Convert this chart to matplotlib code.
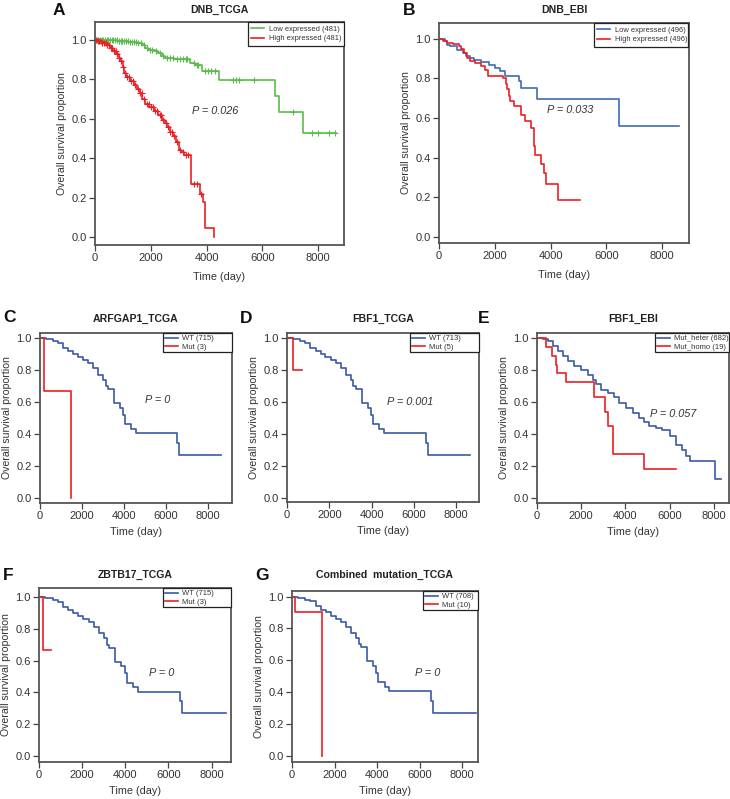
import numpy as np
import matplotlib
matplotlib.use("Agg")
import matplotlib.pyplot as plt

plt.rcParams['font.family'] = ['Liberation Sans', 'DejaVu Sans']

GREEN = '#5cbb4c'
RED = '#ec1e26'
BLUE = '#3a5aa8'

# ---- panel A: DNB_TCGA ----
a_low_t = [0, 400, 800, 1200, 1500, 1700, 1800, 1900, 2150, 2250, 2400, 2500, 2850, 3400, 3600,
           3850, 4450, 6450, 6600, 7450]
a_low_s = [1.0, 0.998, 0.995, 0.99, 0.985, 0.975, 0.96, 0.95, 0.945, 0.935, 0.92, 0.91, 0.90, 0.88,
           0.87, 0.84, 0.795, 0.715, 0.635, 0.53]
a_low_end = 8650
a_low_cens = [60, 120, 180, 240, 300, 350, 420, 480, 540, 600, 660, 720, 780, 850, 920, 980, 1050,
              1120, 1180, 1250, 1320, 1400, 1480, 1560, 1640, 1750, 1850, 1980, 2050, 2200, 2320,
              2450, 2600, 2700, 2780, 2950, 3050, 3150, 3250, 3300, 3550, 3650, 3700, 3950, 4050,
              4150, 4300, 4950, 5050, 5150, 5700, 7100, 7800, 8000, 8390, 8610]
a_high_t = [0, 100, 250, 400, 550, 650, 750, 850, 920, 1000, 1050, 1120, 1250, 1400, 1500, 1600,
            1700, 1800, 1950, 2100, 2250, 2400, 2500, 2600, 2700, 2800, 2900, 3000, 3100, 3200,
            3450, 3750, 3880, 3960, 4250]
a_high_s = [1.0, 0.995, 0.985, 0.975, 0.96, 0.945, 0.93, 0.91, 0.89, 0.86, 0.83, 0.81, 0.79, 0.77,
            0.75, 0.73, 0.70, 0.675, 0.66, 0.64, 0.62, 0.595, 0.58, 0.56, 0.535, 0.51, 0.48, 0.44,
            0.43, 0.415, 0.27, 0.22, 0.18, 0.045, 0.0]
a_high_end = 4250
a_high_cens = [50, 100, 150, 200, 260, 320, 380, 440, 500, 560, 620, 680, 740, 800, 860, 940, 1020,
               1080, 1150, 1220, 1300, 1380, 1450, 1530, 1620, 1680, 1760, 1850, 1920, 2000, 2080,
               2160, 2240, 2320, 2380, 2450, 2530, 2620, 2700, 2760, 2850, 2950, 3050, 3150, 3250,
               3350, 3550, 3650, 3800]

# ---- panel B: DNB_EBI ----
b_low_t = [0, 200, 300, 400, 650, 850, 950, 1100, 1250, 1500, 1800, 2000, 2200, 2350, 2850, 2950,
           3500, 6450]
b_low_s = [1.0, 0.988, 0.97, 0.963, 0.946, 0.93, 0.915, 0.905, 0.893, 0.882, 0.87, 0.855, 0.837,
           0.815, 0.786, 0.753, 0.697, 0.562]
b_low_end = 8600
b_high_t = [0, 150, 300, 500, 700, 800, 900, 1000, 1100, 1300, 1500, 1650, 1750, 2300, 2400, 2450,
            2500, 2550, 2700, 2950, 3100, 3300, 3400, 3450, 3650, 3750, 3850, 4250]
b_high_s = [1.0, 0.99, 0.98, 0.975, 0.965, 0.95, 0.93, 0.905, 0.89, 0.88, 0.862, 0.845, 0.815, 0.80,
            0.77, 0.745, 0.71, 0.685, 0.663, 0.618, 0.585, 0.55, 0.46, 0.415, 0.37, 0.323, 0.27,
            0.185]
b_high_end = 5050

# ---- TCGA wild type (C, D, F, G) ----
wt_t = [0, 300, 630, 870, 1110, 1350, 1590, 1820, 2060, 2300, 2540, 2780, 3020, 3140, 3250, 3540,
        3810, 3970, 4060, 4360, 4570, 6550, 6650]
wt_s = [1.0, 0.994, 0.979, 0.969, 0.938, 0.917, 0.90, 0.88, 0.86, 0.84, 0.81, 0.77, 0.74, 0.70,
        0.68, 0.594, 0.563, 0.52, 0.46, 0.433, 0.406, 0.344, 0.27]
wt_end = 8650

c_mut_t = [0, 190, 1480]
c_mut_s = [1.0, 0.667, 0.0]
c_mut_end = 1480
d_mut_t = [0, 270]
d_mut_s = [1.0, 0.8]
d_mut_end = 710
f_mut_t = [0, 190]
f_mut_s = [1.0, 0.667]
f_mut_end = 540
g_mut_t = [0, 160, 1400, 1410]
g_mut_s = [1.0, 0.9, 0.45, 0.0]
g_mut_end = 1410

# ---- panel E: FBF1_EBI ----
e_het_t = [0, 270, 495, 720, 945, 1170, 1395, 1695, 1995, 2295, 2520, 2670, 2895, 3195, 3495, 3720,
           4020, 4320, 4620, 4845, 5070, 5370, 5670, 6000, 6270, 6570, 6720, 6900, 8025]
e_het_s = [1.0, 0.994, 0.98, 0.952, 0.917, 0.885, 0.854, 0.827, 0.80, 0.77, 0.74, 0.71, 0.677, 0.656,
           0.63, 0.594, 0.563, 0.53, 0.50, 0.473, 0.452, 0.438, 0.423, 0.385, 0.333, 0.302, 0.26,
           0.233, 0.119]
e_het_end = 8325
e_homo_t = [0, 420, 690, 870, 900, 1290, 2565, 3090, 3195, 3450, 4815]
e_homo_s = [1.0, 0.944, 0.889, 0.833, 0.778, 0.722, 0.63, 0.54, 0.45, 0.275, 0.18]
e_homo_end = 6270

W, H = 730, 799


def add_ax(l, t, r, b):
    return fig.add_axes([l / W, 1 - b / H, (r - l) / W, (b - t) / H])


def km(ax, t, s, end, color, label, cens=None):
    xs = list(t) + [end]
    ys = list(s) + [s[-1]]
    ax.step(xs, ys, where='post', color=color, lw=1.2, label=label)
    if cens is not None:
        idx = np.searchsorted(t, cens, side='right') - 1
        ax.plot(cens, np.array(s)[idx], '+', color=color, ms=5, mew=0.8)


def style(ax, box, title, title_y, letter, letter_xy, xmax, ylim, ptext, pxy, leg_box, leg_fs,
          big=False):
    l, t, r, b = box
    ax.set_xlim(0, xmax)
    ax.set_ylim(*ylim)
    ax.set_xticks([0, 2000, 4000, 6000, 8000])
    ax.set_yticks([0, 0.2, 0.4, 0.6, 0.8, 1.0])
    ax.set_yticklabels(['0.0', '0.2', '0.4', '0.6', '0.8', '1.0'])
    for sp in ax.spines.values():
        sp.set_color('#555555')
        sp.set_linewidth(1.3)
    ax.tick_params(direction='out', length=4, width=0.9, color='#444444',
                   labelsize=8, labelcolor='#333333', pad=2)
    ax.set_xlabel('Time (day)', fontsize=7.8, color='#333333', labelpad=6 if big else 4)
    ax.set_ylabel('Overall survival proportion', fontsize=7.6, color='#333333', labelpad=3)
    fig.text((l + r) / 2 / W, 1 - title_y / H, title, fontsize=7.6, fontweight='bold',
             color='#222222', ha='center', va='center')
    fig.text(letter_xy[0] / W, 1 - letter_xy[1] / H, letter, fontsize=12.5, fontweight='bold',
             ha='left', va='top', color='#111111')
    ax.text(pxy[0], pxy[1], ptext, fontsize=7.8, style='italic', color='#333333',
            ha='left', va='center')
    # legend box given in figure pixels (left, top, right)
    lx0, ly0, lx1 = leg_box
    bb = ((lx0 - l) / (r - l), 1 - (ly0 - t) / (b - t), (lx1 - lx0) / (r - l), 0)
    leg = ax.legend(loc='upper left', bbox_to_anchor=bb, mode='expand', fontsize=leg_fs,
                    frameon=True, fancybox=False, borderaxespad=0, handlelength=1.7,
                    borderpad=0.45 if big else 0.25, labelspacing=0.3 if big else 0.12,
                    handletextpad=0.6, framealpha=1)
    leg.get_frame().set_edgecolor('#222222')
    leg.get_frame().set_linewidth(0.9)
    for txt in leg.get_texts():
        txt.set_color('#333333')


fig = plt.figure(figsize=(W / 100, H / 100), dpi=100)

box = (95, 22, 344, 245)
ax = add_ax(*box)
km(ax, a_low_t, a_low_s, a_low_end, GREEN, 'Low expressed (481)', a_low_cens)
km(ax, a_high_t, a_high_s, a_high_end, RED, 'High expressed (481)', a_high_cens)
style(ax, box, 'DNB_TCGA', 10, 'A', (53, 3), 8930, (-0.04, 1.09), 'P = 0.026', (3490, 0.64),
      (248, 22, 344), 5.4, big=True)

box = (439, 23, 689, 243)
ax = add_ax(*box)
km(ax, b_low_t, b_low_s, b_low_end, '#3d6bb5', 'Low expressed (496)')
km(ax, b_high_t, b_high_s, b_high_end, RED, 'High expressed (496)')
style(ax, box, 'DNB_EBI', 10, 'B', (403, 3), 8960, (-0.03, 1.08), 'P = 0.033', (3870, 0.64),
      (594, 23, 688), 5.4, big=True)

box = (40, 333, 232, 503)
ax = add_ax(*box)
km(ax, wt_t, wt_s, wt_end, BLUE, 'WT (715)')
km(ax, c_mut_t, c_mut_s, c_mut_end, RED, 'Mut (3)')
style(ax, box, 'ARFGAP1_TCGA', 319, 'C', (3, 310), 9170, (-0.03, 1.03), 'P = 0', (5000, 0.615),
      (163, 333, 232), 5.5)

box = (287, 333, 479, 502)
ax = add_ax(*box)
km(ax, wt_t, wt_s, wt_end, BLUE, 'WT (713)')
km(ax, d_mut_t, d_mut_s, d_mut_end, RED, 'Mut (5)')
style(ax, box, 'FBF1_TCGA', 319, 'D', (240, 311), 9080, (-0.023, 1.03), 'P = 0.001', (4720, 0.60),
      (410, 333, 479), 5.5)

box = (537, 333, 729, 503)
ax = add_ax(*box)
km(ax, e_het_t, e_het_s, e_het_end, BLUE, 'Mut_heter (682)')
km(ax, e_homo_t, e_homo_s, e_homo_end, RED, 'Mut_homo (19)')
style(ax, box, 'FBF1_EBI', 319, 'E', (478, 311), 8680, (-0.03, 1.03), 'P = 0.057', (5100, 0.525),
      (655, 333, 729), 5.5)

box = (39, 588, 231, 762)
ax = add_ax(*box)
km(ax, wt_t, wt_s, wt_end, BLUE, 'WT (715)')
km(ax, f_mut_t, f_mut_s, f_mut_end, RED, 'Mut (3)')
style(ax, box, 'ZBTB17_TCGA', 575, 'F', (3, 568), 8900, (-0.036, 1.055), 'P = 0', (5100, 0.525),
      (163, 588, 231), 5.5)

box = (292, 591, 478, 762)
ax = add_ax(*box)
km(ax, wt_t, wt_s, wt_end, BLUE, 'WT (708)')
km(ax, g_mut_t, g_mut_s, g_mut_end, RED, 'Mut (10)')
style(ax, box, 'Combined  mutation_TCGA', 575, 'G', (255, 568), 8750, (-0.04, 1.035), 'P = 0',
      (5800, 0.52), (423, 591, 478), 5.5)

fig.savefig('out.png', dpi=100)
